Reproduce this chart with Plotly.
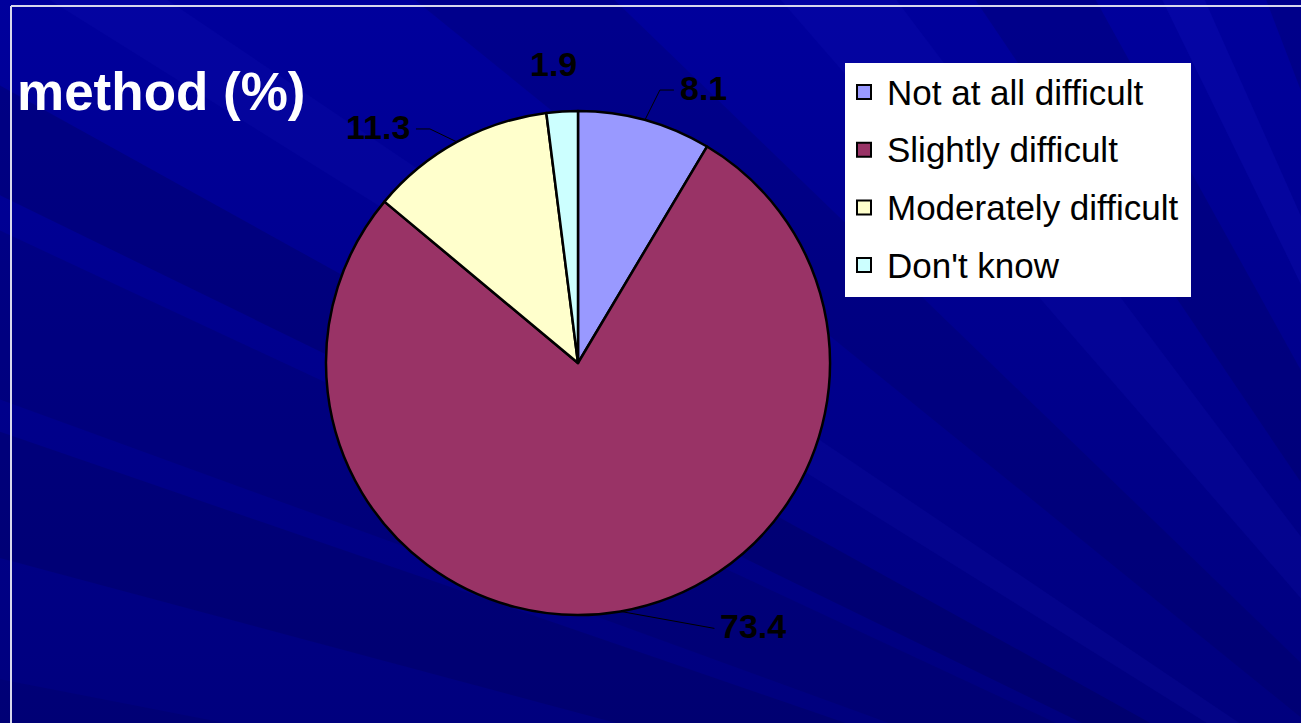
import math
import plotly.graph_objects as go

# ---- data -----------------------------------------------------------------
labels = ["Not at all difficult", "Slightly difficult", "Moderately difficult", "Don't know"]
values = [8.1, 73.4, 11.3, 1.9]
value_text = ["8.1", "73.4", "11.3", "1.9"]
colors = ["#9999FF", "#993366", "#FFFFCC", "#CCFFFF"]
title_text = "method (%)"

# ---- canvas / layout constants (pixels) -----------------------------------
W, H = 1301, 723
CX, CY, R = 578, 363, 252          # pie centre and radius
FONT = "Liberation Sans, Arial, sans-serif"

# label placement relative to the slice's outer edge point: (dx, dy, anchor, leader)
label_place = [
    (33, -32, "left", True),
    (98, 15, "left", True),
    (-45, -15, "right", True),
    (-9, -48, "center", False),
]

fig = go.Figure()

# ---- background: navy gradient with faint diagonal beams -------------------
fig.add_trace(go.Scatter(
    x=[0, W, W, 0, 0], y=[0, 0, H, H, 0], mode="lines", line=dict(width=0),
    fill="toself", fillgradient=dict(type="vertical",
                                     colorscale=[[0, "#00007E"], [1, "#00009C"]]),
    hoverinfo="skip", showlegend=False))

FX, FY, L = 1650, 1000, 4000
beams = [
    (176, 186, "rgba(20,20,190,0.18)"),
    (188, 191, "rgba(0,0,80,0.18)"),
    (195, 199, "rgba(0,0,70,0.22)"),
    (200, 205, "rgba(0,0,80,0.22)"),
    (206, 209, "rgba(0,0,60,0.22)"),
    (212, 214, "rgba(30,30,200,0.12)"),
    (219, 224, "rgba(0,0,70,0.18)"),
    (229, 233, "rgba(25,25,200,0.14)"),
    (236, 241, "rgba(0,0,70,0.20)"),
    (244, 246, "rgba(30,30,210,0.16)"),
    (249, 254, "rgba(0,0,70,0.20)"),
]
for a1, a2, col in beams:
    p1 = (FX + L * math.cos(math.radians(a1)), FY + L * math.sin(math.radians(a1)))
    p2 = (FX + L * math.cos(math.radians(a2)), FY + L * math.sin(math.radians(a2)))
    fig.add_trace(go.Scatter(
        x=[FX, p1[0], p2[0], FX], y=[FY, p1[1], p2[1], FY], mode="lines",
        line=dict(width=0), fill="toself", fillcolor=col,
        hoverinfo="skip", showlegend=False))

# ---- pie ------------------------------------------------------------------
fig.add_trace(go.Pie(
    labels=labels, values=values, sort=False, direction="clockwise", rotation=0,
    marker=dict(colors=colors, line=dict(color="black", width=2.5)),
    textinfo="none", hoverinfo="label+value", showlegend=False,
    domain=dict(x=[(CX - R) / W, (CX + R) / W],
                y=[1 - (CY + R) / H, 1 - (CY - R) / H])))

# ---- value labels with leader lines ----------------------------------------
total = sum(values)
cum = 0.0
annotations = []
for v, txt, (dx, dy, anchor, leader) in zip(values, value_text, label_place):
    theta = (cum + v / 2) / total * 2 * math.pi
    cum += v
    ex = CX + R * math.sin(theta)
    ey = CY - R * math.cos(theta)
    tx, ty = ex + dx, ey + dy
    if leader:
        step = 4 if anchor == "left" else -4
        end = tx - step
        elbow = end - 14 * (1 if anchor == "left" else -1)
        if abs(dy) < 20 and anchor == "left":
            elbow = end
        fig.add_trace(go.Scatter(
            x=[ex, elbow, end], y=[ey, ty + 2, ty + 2], mode="lines",
            line=dict(color="black", width=1), hoverinfo="skip", showlegend=False))
    annotations.append(dict(
        x=tx, y=ty, xref="x", yref="y", text=f"<b>{txt}</b>", showarrow=False,
        xanchor=anchor, yanchor="middle",
        font=dict(family=FONT, size=34, color="black")))

# ---- title ----------------------------------------------------------------
annotations.append(dict(
    x=15, y=91, xref="x", yref="y", text=f"<b>{title_text}</b>", showarrow=False,
    xanchor="left", yanchor="middle", font=dict(family=FONT, size=53, color="white")))

# ---- legend box -------------------------------------------------------------
shapes = [
    dict(type="line", xref="x", yref="y", x0=11, y0=6, x1=W, y1=6,
         line=dict(color="#D8D8EC", width=2), layer="above"),
    dict(type="line", xref="x", yref="y", x0=11, y0=6, x1=11, y1=H,
         line=dict(color="#D8D8EC", width=2), layer="above"),
    dict(type="rect", xref="x", yref="y", x0=845, y0=63, x1=1191, y1=297,
         fillcolor="white", line=dict(width=0), layer="above"),
]
row_y0, row_gap = 92, 57.7
for i, (lab, col) in enumerate(zip(labels, colors)):
    yc = row_y0 + i * row_gap
    shapes.append(dict(type="rect", xref="x", yref="y", x0=857, y0=yc - 7,
                       x1=871, y1=yc + 7, fillcolor=col,
                       line=dict(color="black", width=2), layer="above"))
    annotations.append(dict(
        x=885, y=yc, xref="x", yref="y", text=lab, showarrow=False,
        xanchor="left", yanchor="middle",
        font=dict(family=FONT, size=35, color="black")))

fig.update_layout(
    width=W, height=H, margin=dict(l=0, r=0, t=0, b=0),
    paper_bgcolor="#000088", plot_bgcolor="#000088",
    xaxis=dict(range=[0, W], visible=False, fixedrange=True, domain=[0, 1]),
    yaxis=dict(range=[H, 0], visible=False, fixedrange=True, domain=[0, 1]),
    showlegend=False, shapes=shapes, annotations=annotations)

fig.write_html("out.html")
